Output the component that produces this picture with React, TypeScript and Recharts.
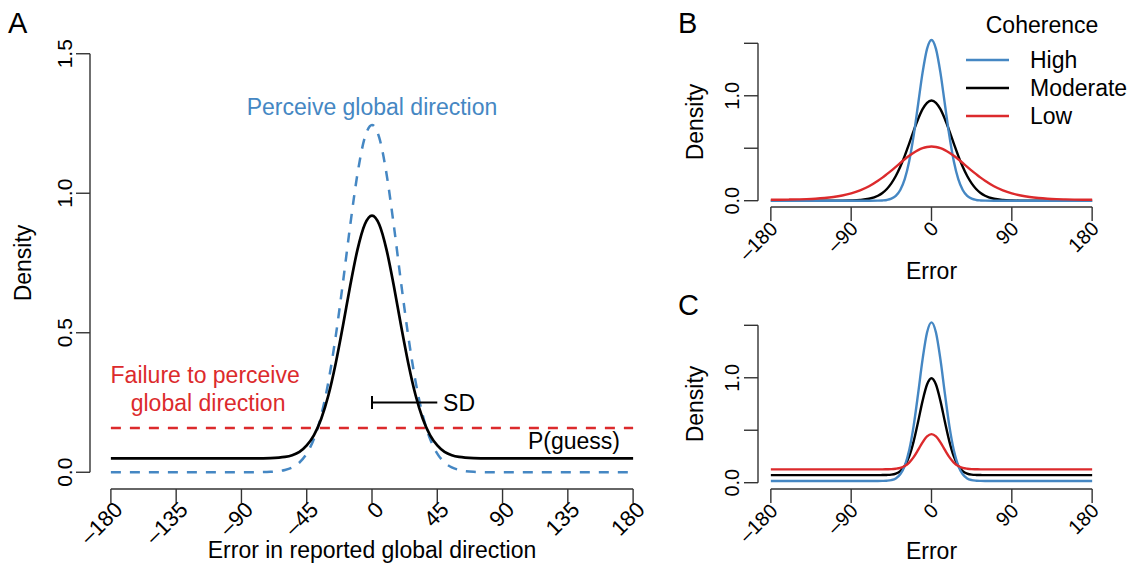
import React from "react";
import {
  LineChart,
  Line,
  XAxis,
  YAxis,
  ReferenceLine,
  ReferenceDot,
  Legend,
} from "recharts";

// error in reported direction (deg)
const xs = [
  -180, -170, -160, -150, -140, -130, -120, -110, -100, -90, -80, -70,
  -60, -55, -50, -45, -40, -35, -30, -25, -20, -15, -10, -5, 0, 5, 10, 15,
  20, 25, 30, 35, 40, 45, 50, 55, 60,
  70, 80, 90, 100, 110, 120, 130, 140, 150, 160, 170, 180,
];

// panel A
const perceiveA = [
  0, 0, 0, 0, 0, 0, 0, 0, 0, 0, 0.0003, 0.0017,
  0.0084, 0.0175, 0.035, 0.067, 0.12, 0.204, 0.326, 0.488, 0.681, 0.886, 1.07, 1.199,
  1.245,
  1.199, 1.07, 0.886, 0.681, 0.488, 0.326, 0.204, 0.12, 0.067, 0.035, 0.0175, 0.0084,
  0.0017, 0.0003, 0, 0, 0, 0, 0, 0, 0, 0, 0, 0,
];
const mixtureA = [
  0.05, 0.05, 0.05, 0.05, 0.05, 0.05, 0.05, 0.05, 0.05, 0.05, 0.05, 0.051,
  0.055, 0.061, 0.073, 0.096, 0.133, 0.192, 0.277, 0.391, 0.526, 0.669, 0.798, 0.888,
  0.92,
  0.888, 0.798, 0.669, 0.526, 0.391, 0.277, 0.192, 0.133, 0.096, 0.073, 0.061, 0.055,
  0.051, 0.05, 0.05, 0.05, 0.05, 0.05, 0.05, 0.05, 0.05, 0.05, 0.05, 0.05,
];
const guessDensity = 0.159;

// panel B: precision changes with coherence
const highB = [
  0, 0, 0, 0, 0, 0, 0, 0, 0, 0, 0, 0,
  0.0008, 0.0026, 0.0072, 0.019, 0.046, 0.102, 0.205, 0.376, 0.62, 0.919, 1.22, 1.447,
  1.532,
  1.447, 1.22, 0.919, 0.62, 0.376, 0.205, 0.102, 0.046, 0.019, 0.0072, 0.0026, 0.0008,
  0, 0, 0, 0, 0, 0, 0, 0, 0, 0, 0, 0,
];
const moderateB = [
  0, 0, 0, 0, 0, 0, 0, 0.0003, 0.0008, 0.0024, 0.0067, 0.0184,
  0.0475, 0.074, 0.112, 0.165, 0.235, 0.323, 0.427, 0.544, 0.665, 0.778, 0.872, 0.933,
  0.955,
  0.933, 0.872, 0.778, 0.665, 0.544, 0.427, 0.323, 0.235, 0.165, 0.112, 0.074, 0.0475,
  0.0184, 0.0067, 0.0024, 0.0008, 0.0003, 0, 0, 0, 0, 0, 0, 0,
];
const lowB = [
  0.0095, 0.0097, 0.0107, 0.0123, 0.0151, 0.0193, 0.0257, 0.0353, 0.0494, 0.0698, 0.0988, 0.138,
  0.19, 0.22, 0.253, 0.287, 0.323, 0.359, 0.395, 0.428, 0.457, 0.482, 0.501, 0.512,
  0.516,
  0.512, 0.501, 0.482, 0.457, 0.428, 0.395, 0.359, 0.323, 0.287, 0.253, 0.22, 0.19,
  0.138, 0.0988, 0.0698, 0.0494, 0.0353, 0.0257, 0.0193, 0.0151, 0.0123, 0.0107, 0.0097, 0.0095,
];

// panel C: guess rate changes with coherence
const highC = [
  0.016, 0.016, 0.016, 0.016, 0.016, 0.016, 0.016, 0.016, 0.016, 0.016, 0.016, 0.016,
  0.016, 0.017, 0.019, 0.025, 0.041, 0.08, 0.161, 0.309, 0.542, 0.849, 1.175, 1.431,
  1.528,
  1.431, 1.175, 0.849, 0.542, 0.309, 0.161, 0.08, 0.041, 0.025, 0.019, 0.017, 0.016,
  0.016, 0.016, 0.016, 0.016, 0.016, 0.016, 0.016, 0.016, 0.016, 0.016, 0.016, 0.016,
];
const moderateC = [
  0.072, 0.072, 0.072, 0.072, 0.072, 0.072, 0.072, 0.072, 0.072, 0.072, 0.072, 0.072,
  0.072, 0.073, 0.074, 0.077, 0.087, 0.111, 0.161, 0.251, 0.394, 0.581, 0.78, 0.936,
  0.996,
  0.936, 0.78, 0.581, 0.394, 0.251, 0.161, 0.111, 0.087, 0.077, 0.074, 0.073, 0.072,
  0.072, 0.072, 0.072, 0.072, 0.072, 0.072, 0.072, 0.072, 0.072, 0.072, 0.072, 0.072,
];
const lowC = [
  0.127, 0.127, 0.127, 0.127, 0.127, 0.127, 0.127, 0.127, 0.127, 0.127, 0.127, 0.127,
  0.127, 0.127, 0.128, 0.129, 0.133, 0.141, 0.159, 0.192, 0.244, 0.312, 0.385, 0.441,
  0.463,
  0.441, 0.385, 0.312, 0.244, 0.192, 0.159, 0.141, 0.133, 0.129, 0.128, 0.127, 0.127,
  0.127, 0.127, 0.127, 0.127, 0.127, 0.127, 0.127, 0.127, 0.127, 0.127, 0.127, 0.127,
];

const ticksXA = [-180, -135, -90, -45, 0, 45, 90, 135, 180];
const ticksXBC = [-180, -90, 0, 90, 180];
const ticksY = [0, 0.5, 1, 1.5];
const coherenceLevels = ["High", "Moderate", "Low"];

const FONT = '"Liberation Sans", Arial, Helvetica, sans-serif';
const BLUE = "#4587c3";
const RED = "#dc2a2c";
const BLACK = "#000";
const AXIS = "#333";
const coherenceColors = [BLUE, BLACK, RED];

// R style 4% padding around the data range
const X_DOMAIN: [number, number] = [-194.4, 194.4];
const Y_DOMAIN: [number, number] = [-0.06, 1.56];

const rowsA = xs.map((x, i) => ({ x, perceive: perceiveA[i], mixture: mixtureA[i] }));
const rowsB = xs.map((x, i) => ({ x, high: highB[i], moderate: moderateB[i], low: lowB[i] }));
const rowsC = xs.map((x, i) => ({ x, high: highC[i], moderate: moderateC[i], low: lowC[i] }));

const fmtX = (v: number) => (v < 0 ? "\u2013" + Math.abs(v) : String(v));

const xTick = (fontSize: number, dx: number, dy: number) => (props: any) => {
  const { x, y, payload } = props;
  const ax = x + dx;
  const ay = y + dy;
  return (
    <text
      x={ax}
      y={ay}
      transform={`rotate(-45 ${ax} ${ay})`}
      textAnchor="end"
      fontSize={fontSize}
      fontFamily={FONT}
      fill="#000"
    >
      {fmtX(payload.value)}
    </text>
  );
};

const yTick = (fontSize: number, fmt: (v: number) => string) => (props: any) => {
  const { x, y, payload } = props;
  return (
    <text
      x={x}
      y={y}
      transform={`rotate(-90 ${x} ${y})`}
      textAnchor="middle"
      fontSize={fontSize}
      fontFamily={FONT}
      fill="#000"
    >
      {fmt(payload.value)}
    </text>
  );
};

const yTitle = (dx: number) => (props: any) => {
  const vb = props.viewBox;
  const tx = vb.x + dx;
  const ty = vb.y + vb.height / 2;
  return (
    <text
      x={tx}
      y={ty}
      transform={`rotate(-90 ${tx} ${ty})`}
      textAnchor="middle"
      fontSize={23}
      fontFamily={FONT}
      fill="#000"
    >
      Density
    </text>
  );
};

const xTitle = (text: string, dy: number) => (props: any) => {
  const vb = props.viewBox;
  return (
    <text
      x={vb.x + vb.width / 2}
      y={vb.y + dy}
      textAnchor="middle"
      fontSize={23}
      fontFamily={FONT}
      fill="#000"
    >
      {text}
    </text>
  );
};

const note = (text: string, color: string, anchor: "start" | "middle" | "end") => (p: any) => (
  <text x={p.cx} y={p.cy} textAnchor={anchor} fontSize={23} fontFamily={FONT} fill={color}>
    {text}
  </text>
);

function PanelA() {
  return (
    <LineChart width={660} height={567} data={rowsA} margin={{ top: 37, right: 6, left: 0, bottom: 0 }}>
      <XAxis
        type="number"
        dataKey="x"
        domain={X_DOMAIN}
        ticks={ticksXA}
        interval={0}
        axisLine={false}
        tickLine={{ stroke: AXIS, strokeWidth: 1.4 }}
        tickSize={14}
        tickMargin={0}
        height={78}
        tick={xTick(22, 13, 8)}
        label={xTitle("Error in reported global direction", 69)}
      />
      <YAxis
        type="number"
        domain={Y_DOMAIN}
        ticks={ticksY}
        interval={0}
        axisLine={false}
        tickLine={{ stroke: AXIS, strokeWidth: 1.4 }}
        tickSize={14}
        tickMargin={4}
        width={90}
        tick={yTick(21, (v) => v.toFixed(1))}
        label={yTitle(31)}
      />
      <ReferenceLine segment={[{ x: X_DOMAIN[0], y: 0 }, { x: X_DOMAIN[0], y: 1.5 }]} stroke={AXIS} strokeWidth={1.4} ifOverflow="visible" />
      <ReferenceLine segment={[{ x: -180, y: Y_DOMAIN[0] }, { x: 180, y: Y_DOMAIN[0] }]} stroke={AXIS} strokeWidth={1.4} ifOverflow="visible" />
      <ReferenceLine
        segment={[{ x: -180, y: guessDensity }, { x: 180, y: guessDensity }]}
        stroke={RED}
        strokeWidth={2.5}
        strokeDasharray="10 9"
        ifOverflow="visible"
      />
      <Line type="monotone" dataKey="perceive" stroke={BLUE} strokeWidth={2.5} strokeDasharray="10 9" dot={false} isAnimationActive={false} />
      <Line type="monotone" dataKey="mixture" stroke={BLACK} strokeWidth={2.7} dot={false} isAnimationActive={false} />
      {/* SD bar */}
      <ReferenceLine segment={[{ x: 0, y: 0.25 }, { x: 45, y: 0.25 }]} stroke={BLACK} strokeWidth={2} ifOverflow="visible" />
      <ReferenceLine segment={[{ x: 0, y: 0.227 }, { x: 0, y: 0.273 }]} stroke={BLACK} strokeWidth={2} ifOverflow="visible" />
      <ReferenceDot x={0} y={1.279} shape={note("Perceive global direction", BLUE, "middle")} ifOverflow="visible" />
      <ReferenceDot x={-115} y={0.319} shape={note("Failure to perceive", RED, "middle")} ifOverflow="visible" />
      <ReferenceDot x={-113} y={0.219} shape={note("global direction", RED, "middle")} ifOverflow="visible" />
      <ReferenceDot x={49} y={0.219} shape={note("SD", BLACK, "start")} ifOverflow="visible" />
      <ReferenceDot x={107.5} y={0.082} shape={note("P(guess)", BLACK, "start")} ifOverflow="visible" />
    </LineChart>
  );
}

const coherenceLegend = () => (
  <svg width={472} height={140}>
    <text x={382} y={33} textAnchor="middle" fontSize={23} fontFamily={FONT} fill="#000">
      Coherence
    </text>
    {coherenceLevels.map((name, i) => (
      <g key={name}>
        <line x1={306} x2={349} y1={60 + i * 28} y2={60 + i * 28} stroke={coherenceColors[i]} strokeWidth={2.5} />
        <text x={370} y={68 + i * 28} fontSize={23} fontFamily={FONT} fill="#000">
          {name}
        </text>
      </g>
    ))}
  </svg>
);

function PanelBC({ rows, height, top, legend, titleDy }: any) {
  return (
    <LineChart width={472} height={height} data={rows} margin={{ top, right: 27, left: 0, bottom: 0 }}>
      <XAxis
        type="number"
        dataKey="x"
        domain={X_DOMAIN}
        ticks={ticksXBC}
        interval={0}
        axisLine={false}
        tickLine={{ stroke: AXIS, strokeWidth: 1.4 }}
        tickSize={14}
        tickMargin={0}
        height={height - top - 170}
        tick={xTick(20, 8, 9)}
        label={xTitle("Error", titleDy)}
      />
      <YAxis
        type="number"
        domain={Y_DOMAIN}
        ticks={ticksY}
        interval={0}
        axisLine={false}
        tickLine={{ stroke: AXIS, strokeWidth: 1.4 }}
        tickSize={14}
        tickMargin={5}
        width={98}
        tick={yTick(20, (v) => (v === 0 ? "0.0" : v === 1 ? "1.0" : ""))}
        label={yTitle(43)}
      />
      <ReferenceLine segment={[{ x: X_DOMAIN[0], y: 0 }, { x: X_DOMAIN[0], y: 1.5 }]} stroke={AXIS} strokeWidth={1.4} ifOverflow="visible" />
      <ReferenceLine segment={[{ x: -180, y: Y_DOMAIN[0] }, { x: 180, y: Y_DOMAIN[0] }]} stroke={AXIS} strokeWidth={1.4} ifOverflow="visible" />
      <Line type="monotone" dataKey="moderate" name="Moderate" stroke={BLACK} strokeWidth={2.4} dot={false} isAnimationActive={false} />
      <Line type="monotone" dataKey="high" name="High" stroke={BLUE} strokeWidth={2.4} dot={false} isAnimationActive={false} />
      <Line type="monotone" dataKey="low" name="Low" stroke={RED} strokeWidth={2.4} dot={false} isAnimationActive={false} />
      {legend && (
        <Legend
          layout="horizontal"
          verticalAlign="middle"
          align="center"
          wrapperStyle={{ left: 0, top: 0, width: 472, height: 140 }}
          content={coherenceLegend}
        />
      )}
    </LineChart>
  );
}

export default function App() {
  return (
    <div style={{ position: "absolute", left: 0, top: 0, width: 1132, height: 567, background: "#fff" }}>
      <div style={{ position: "absolute", left: 0, top: 0 }}>
        <PanelA />
      </div>
      <div style={{ position: "absolute", left: 660, top: 0 }}>
        <PanelBC rows={rowsB} height={290} top={37} legend titleDy={72} />
      </div>
      <div style={{ position: "absolute", left: 660, top: 290 }}>
        <PanelBC rows={rowsC} height={277} top={29} legend={false} titleDy={70} />
      </div>
      <svg width={1132} height={567} style={{ position: "absolute", left: 0, top: 0, pointerEvents: "none" }}>
        <text x={8} y={33} fontSize={29} fontFamily={FONT} fill="#000">A</text>
        <text x={678} y={33} fontSize={29} fontFamily={FONT} fill="#000">B</text>
        <text x={678} y={315} fontSize={29} fontFamily={FONT} fill="#000">C</text>
      </svg>
    </div>
  );
}
